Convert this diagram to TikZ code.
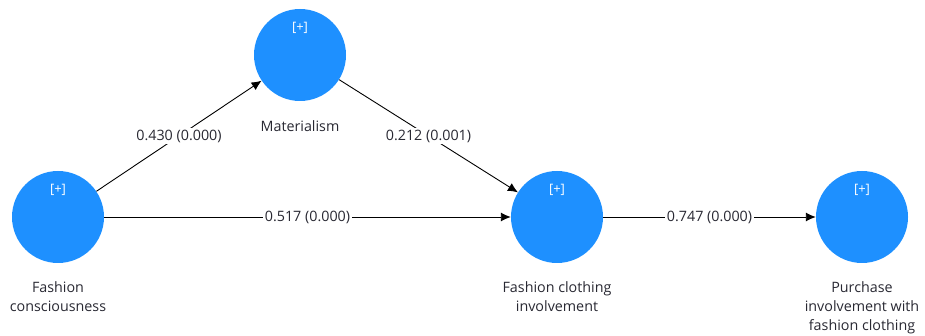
\documentclass[tikz,border=0pt]{standalone}
\usepackage{fontspec}
\setmainfont{Open Sans}
\usetikzlibrary{arrows.meta}

\definecolor{lvblue}{RGB}{30,144,255}
\definecolor{lbltext}{RGB}{40,40,50}

\begin{document}
\begin{tikzpicture}[x=1pt,y=-1pt,
  latent/.style={circle,fill=lvblue,minimum size=92pt,inner sep=0pt},
  plus/.style={text=white,font=\fontsize{13}{15}\selectfont},
  pth/.style={-{Latex[length=10pt,width=9pt]},line width=0.9pt},
  coef/.style={fill=white,text=lbltext,inner sep=1.5pt,font=\fontsize{14.3}{16}\selectfont},
  lvname/.style={anchor=north,align=center,text=lbltext,font=\fontsize{14.3}{19}\selectfont}]

  \useasboundingbox (0,0) rectangle (925,336);

  \node[latent] (fc) at (58,217) {};
  \node[latent] (mat) at (300,55) {};
  \node[latent] (fci) at (557,217) {};
  \node[latent] (pur) at (862,217) {};

  \node[plus] (fcp) at (58,190) {[+]};
  \node[plus] (matp) at (300,28) {[+]};
  \node[plus] (fcip) at (557,190) {[+]};
  \node[plus] (purp) at (862,190) {[+]};

  \node[lvname] (fcname) at (58,278) {Fashion\\consciousness};
  \node[lvname] (matname) at (300,117) {Materialism};
  \node[lvname] (fciname) at (557,278) {Fashion clothing\\involvement};
  \node[lvname] (purname) at (862,278) {Purchase\\involvement with\\fashion clothing};

  \draw[pth] (fc) -- node[coef] {0.430 (0.000)} (mat);
  \draw[pth] (mat) -- node[coef] {0.212 (0.001)} (fci);
  \draw[pth] (fc) -- node[coef] {0.517 (0.000)} (fci);
  \draw[pth] (fci) -- node[coef] {0.747 (0.000)} (pur);

\end{tikzpicture}
\end{document}
